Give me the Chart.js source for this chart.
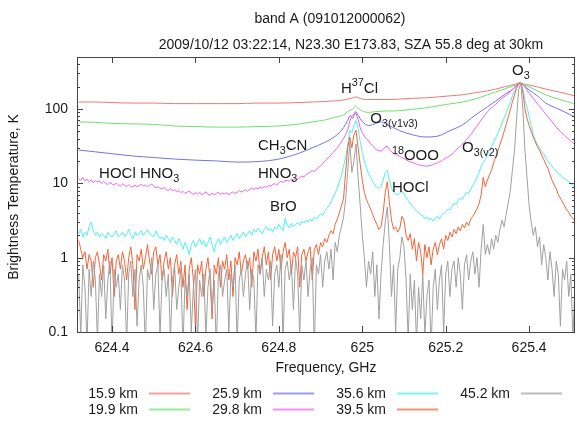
<!DOCTYPE html>
<html>
<head>
<meta charset="utf-8">
<script src="https://cdn.jsdelivr.net/npm/chart.js@4.4.0/dist/chart.umd.min.js"></script>
<style>
  html, body { margin: 0; padding: 0; background: #fff; }
</style>
</head>
<body>
<canvas id="chart" width="577" height="421"></canvas>
<script>
// spectra, brightness temperature in K
const fineStart = 624.32;   // first channel, GHz
const fineStep = 0.005;     // channel spacing, GHz

// coarse frequency points for the smooth low-altitude spectra
const freqCoarse = [624.32, 624.36, 624.40, 624.45, 624.50, 624.55, 624.60, 624.65, 624.70, 624.75,
    624.80, 624.85, 624.88, 624.91, 624.93, 624.945, 624.955, 624.965, 624.971, 624.977,
    624.984, 624.99, 625.00, 625.015, 625.03, 625.045, 625.06, 625.075, 625.09, 625.12,
    625.15, 625.18, 625.21, 625.24, 625.27, 625.30, 625.32, 625.34, 625.355, 625.368,
    625.378, 625.388, 625.40, 625.42, 625.44, 625.47, 625.51];

const t159 = [124, 124, 122, 120, 120, 118, 118, 118, 118, 120,
    120, 122, 124, 126, 128, 130, 132, 136, 139, 141,
    145, 141, 136, 134, 134, 134, 134, 134, 136, 139,
    141, 145, 150, 155, 165, 175, 185, 198, 207, 216,
    224, 216, 210, 198, 185, 170, 150];

const t199 = [67, 66, 64, 63, 62, 59, 58, 57, 57, 58,
    59, 63, 67, 71, 76, 80, 83, 92, 97, 100,
    110, 103, 94, 90, 92, 93, 94, 94, 95, 99,
    103, 110, 117, 124, 136, 155, 170, 185, 198, 210,
    224, 210, 198, 175, 155, 136, 117];

const t259 = [28, 26.5, 25, 23.3, 22.2, 21.2, 20.5, 20, 19.3, 19.6,
    21.2, 25.6, 30, 35.5, 41, 48, 56, 70, 82, 75,
    92, 82, 68, 60, 63, 67, 61, 56, 51, 45,
    42, 43, 51, 61, 82, 107, 128, 155, 175, 198,
    224, 204, 181, 150, 120, 100, 78];

// fine channel spectra (one value per channel)
const t298 = [11.5, 11.0, 12.0, 10.8, 11.4, 10.5, 11.2, 10.2, 10.9, 10.4,
    10.8, 9.9, 10.5, 10.0, 9.6, 10.3, 9.8, 9.4, 10.1, 9.5,
    9.2, 9.8, 9.4, 9.0, 9.6, 9.1, 8.8, 9.5, 9.0, 9.3,
    9.7, 9.2, 9.5, 9.0, 9.4, 9.8, 9.1, 8.7, 9.0, 8.6,
    8.4, 8.8, 8.2, 8.0, 8.5, 7.9, 8.2, 7.7, 8.0, 7.5,
    7.8, 7.3, 7.6, 7.9, 7.4, 7.1, 7.5, 7.2, 7.6, 7.0,
    7.3, 7.7, 7.1, 6.9, 7.4, 7.0, 7.3, 7.6, 7.1, 7.4,
    7.2, 7.5, 7.0, 7.4, 7.7, 7.3, 7.6, 8.0, 7.6, 7.9,
    8.2, 7.8, 8.3, 8.6, 8.2, 8.7, 8.4, 8.9, 8.6, 9.1,
    8.8, 9.4, 9.1, 9.6, 9.9, 9.5, 10.2, 10.6, 10.3, 10.8,
    11.0, 10.7, 11.3, 11.0, 11.6, 11.2, 12.0, 12.5, 12.2, 13.0,
    13.6, 14.2, 14.8, 14.4, 15.5, 16.4, 17.0, 18.5, 19.8, 21,
    22.5, 24, 26, 28, 30, 33, 36, 40, 45, 52,
    68, 80, 86, 88, 72, 56, 48, 43, 40, 37,
    34, 32, 29.5, 28, 27.5, 27, 28.5, 31, 31.5, 28.5,
    26.5, 25.5, 24.5, 23.8, 23, 22.2, 21.5, 20.8, 20.0, 19.5,
    19.0, 18.6, 18.2, 17.8, 17.5, 17.3, 17.1, 17.0, 17.2, 17.5,
    18.0, 18.4, 18.8, 19.5, 20, 21, 21.8, 22.5, 23.5, 24.5,
    26, 28, 30, 31.5, 33.5, 36, 39, 42, 45, 49,
    54, 59, 65, 71, 77, 84, 92, 99, 104, 110,
    116, 123, 131, 139, 146, 152, 160, 170, 182, 196,
    212, 220, 224, 212, 196, 180, 165, 150, 138, 127,
    117, 108, 100, 92, 85, 79, 73, 67, 62, 57,
    53, 50, 47, 44, 41.5, 39, 37, 35, 33];

const t356 = [2.1, 2.4, 1.9, 2.2, 2.0, 2.6, 3.0, 2.3, 2.0, 2.2,
    1.9, 2.1, 2.0, 1.8, 2.2, 2.0, 1.9, 2.1, 2.3, 1.9,
    2.0, 2.2, 1.9, 2.1, 2.4, 2.0, 1.8, 2.2, 2.0, 2.1,
    2.3, 2.0, 2.2, 2.4, 2.1, 2.0, 1.9, 2.3, 2.0, 1.8,
    1.9, 1.7, 2.0, 1.8, 1.6, 1.9, 1.7, 1.5, 1.8, 1.6,
    1.3, 1.6, 1.4, 1.1, 1.5, 1.7, 1.4, 1.6, 1.8, 1.5,
    1.7, 1.4, 1.6, 1.9, 1.5, 1.2, 1.6, 1.8, 1.5, 1.7,
    1.9, 1.6, 1.8, 2.0, 1.7, 1.9, 2.1, 1.8, 2.0, 2.2,
    1.9, 2.1, 2.3, 2.0, 2.4, 2.2, 2.5, 2.3, 2.1, 2.4,
    2.6, 2.3, 2.5, 2.2, 2.6, 2.4, 2.8, 2.5, 2.3, 3.4,
    2.7, 2.5, 2.9, 2.6, 2.8, 3.0, 2.7, 3.1, 2.9, 3.2,
    3.0, 3.3, 3.1, 3.5, 3.3, 3.6, 3.9, 3.7, 4.2, 4.6,
    5.0, 5.6, 6.5, 7.4, 8.6, 10.5, 13, 17, 22, 32,
    52, 48, 60, 70, 55, 36, 26, 20, 16, 13.5,
    12, 10.5, 9.5, 8.8, 8.5, 9.2, 11, 14, 15, 11,
    8.6, 7.6, 7.2, 7.0, 7.4, 7.8, 7.2, 6.4, 5.8, 5.4,
    5.0, 4.6, 4.3, 4.0, 3.8, 3.6, 3.3, 3.5, 3.2, 3.4,
    3.1, 3.4, 3.6, 3.3, 3.7, 3.9, 4.2, 4.5, 4.4, 4.9,
    5.4, 5.2, 5.9, 6.4, 6.0, 6.9, 7.6, 7.3, 8.4, 9.4,
    10.5, 12, 14, 17, 19, 21, 24, 27, 31, 36,
    41, 47, 55, 64, 75, 88, 105, 125, 150, 175,
    195, 215, 224, 185, 130, 105, 80, 60, 45, 38,
    33, 30, 27, 25, 22, 20, 18, 17, 15.5, 14.5,
    13.5, 13, 12, 11.5, 11, 10.5, 10, 9.5, 9.2];

const t395 = [1.7, 1.3, 1.0, 1.2, 0.7, 1.1, 0.9, 0.4, 1.0, 1.2,
    0.8, 0.5, 1.1, 0.9, 1.3, 0.6, 1.0, 0.3, 0.9, 1.1,
    0.7, 1.2, 0.9, 0.5, 1.0, 1.4, 0.8, 0.2, 1.1, 0.9,
    1.3, 0.7, 1.0, 1.5, 0.9, 0.6, 1.2, 1.4, 0.8, 1.1,
    0.5, 0.9, 1.2, 0.7, 1.0, 0.3, 0.8, 1.1, 0.6, 0.9,
    0.4, 0.8, 0.2, 0.7, 1.0, 0.5, 0.12, 0.8, 0.6, 0.9,
    0.3, 0.7, 1.0, 0.5, 0.15, 0.8, 0.6, 1.0, 0.4, 0.9,
    0.7, 1.1, 0.5, 0.9, 0.3, 1.0, 0.8, 1.2, 0.6, 0.9,
    1.1, 0.7, 1.0, 0.4, 1.2, 0.9, 1.3, 0.6, 1.0, 1.4,
    0.8, 1.2, 0.5, 1.1, 1.4, 0.9, 1.3, 0.7, 1.2, 1.6,
    1.0, 1.3, 0.6, 1.2, 1.0, 1.4, 0.4, 1.1, 1.3, 0.9,
    1.2, 1.4, 0.5, 1.3, 1.5, 1.1, 1.6, 1.4, 1.8, 1.6,
    2.0, 2.3, 2.1, 2.8, 3.3, 4.0, 5.0, 6.2, 14, 30,
    42, 30, 45, 52, 30, 18, 11, 7.5, 6.0, 5.2,
    4.5, 3.8, 3.2, 2.8, 2.4, 2.6, 4.0, 7.5, 10.5, 5.5,
    3.2, 2.4, 2.6, 2.2, 2.5, 3.6, 3.2, 2.0, 1.7, 2.1,
    1.3, 1.8, 0.9, 1.6, 1.2, 0.6, 1.5, 1.0, 1.4, 0.8,
    1.3, 1.6, 1.1, 1.5, 1.8, 1.3, 2.0, 1.7, 2.2, 1.9,
    2.4, 2.1, 2.6, 2.3, 2.8, 2.5, 3.0, 2.7, 3.3, 3.6,
    4.0, 4.6, 5.3, 7.0, 12, 9.0, 11, 13, 15, 19,
    23, 27, 33, 40, 50, 62, 78, 98, 125, 155,
    190, 218, 224, 170, 100, 75, 60, 50, 42, 36,
    31, 28, 24, 21, 18, 16, 13, 11, 9.5, 8.5,
    7.0, 6.3, 5.6, 5.0, 4.4, 4.1, 3.6, 3.4, 3.1];

const t452 = [0.6, 0.09, 0.8, 0.4, 0.07, 0.7, 0.3, 0.9, 0.5, 0.08,
    0.6, 0.3, 0.8, 0.15, 0.5, 0.9, 0.06, 0.7, 0.4, 0.6,
    0.2, 0.8, 0.5, 0.07, 0.6, 0.9, 0.3, 0.7, 0.12, 0.5,
    0.8, 0.4, 0.06, 0.7, 0.5, 1.0, 0.2, 0.6, 0.8, 0.09,
    0.5, 0.7, 0.3, 0.6, 0.08, 0.5, 0.8, 0.2, 0.4, 0.7,
    0.06, 0.5, 0.3, 0.6, 0.1, 0.4, 0.7, 0.07, 0.5, 0.3,
    0.6, 0.09, 0.4, 0.7, 0.2, 0.5, 0.06, 0.6, 0.8, 0.3,
    0.5, 0.7, 0.1, 0.6, 0.4, 0.8, 0.07, 0.5, 0.7, 0.3,
    0.6, 0.9, 0.2, 0.7, 0.5, 0.08, 0.8, 0.6, 1.0, 0.3,
    0.7, 0.5, 0.9, 0.12, 0.6, 0.8, 0.4, 1.1, 0.07, 0.7,
    0.9, 0.5, 0.8, 0.2, 1.0, 0.6, 0.09, 0.8, 0.5, 0.9,
    0.3, 0.7, 1.0, 0.06, 0.8, 0.6, 1.1, 0.4, 0.9, 1.2,
    0.7, 1.3, 0.5, 1.6, 1.2, 2.0, 2.6, 3.5, 6, 14,
    36, 14, 20, 34, 12, 5, 2.0, 1.0, 0.4, 0.9,
    0.6, 1.2, 0.3, 0.8, 0.15, 0.6, 1.5, 3.0, 4.8, 1.5,
    0.3, 0.8, 0.1, 0.7, 1.0, 1.9, 1.4, 0.5, 0.08, 0.6,
    0.2, 0.5, 0.07, 0.4, 0.15, 0.6, 0.09, 0.3, 0.5, 0.06,
    0.4, 0.7, 0.2, 0.5, 0.8, 0.1, 0.6, 0.9, 0.3, 0.7,
    0.9, 0.4, 1.0, 0.6, 0.2, 0.8, 1.1, 0.5, 0.9, 1.2,
    0.6, 1.0, 0.4, 1.3, 2.8, 1.1, 1.5, 1.1, 1.8, 1.3,
    2.0, 1.6, 2.4, 3.2, 2.6, 3.8, 5.5, 8, 15, 28,
    75, 180, 224, 100, 28, 12, 5, 3.0, 2.0, 2.6,
    1.4, 1.9, 0.8, 1.5, 1.0, 0.5, 1.2, 0.7, 0.3, 0.9,
    0.6, 0.12, 0.7, 0.5, 0.9, 0.3, 0.6, 0.08, 0.5];

const altLabels = ['15.9 km', '19.9 km', '25.9 km', '29.8 km', '35.6 km', '39.5 km', '45.2 km'];
const xTicks = [624.4, 624.6, 624.8, 625.0, 625.2, 625.4];
const yTicks = [0.1, 1, 10, 100];

// line labels: text pieces, frequency and temperature of the text baseline start
const lineNames = [
    { parts: [['H'], ['37', 'sup'], ['Cl']], f: 624.949, t: 165 },
    { parts: [['O'], ['3', 'sub']], f: 625.359, t: 288 },
    { parts: [['O'], ['3(v1v3)', 'sub']], f: 625.019, t: 65 },
    { parts: [['18', 'sup'], ['OOO']], f: 625.071, t: 20.7 },
    { parts: [['O'], ['3(v2)', 'sub']], f: 625.239, t: 26.5 },
    { parts: [['HOCl']], f: 625.071, t: 7.65 },
    { parts: [['CH'], ['3', 'sub'], ['CN']], f: 624.750, t: 28.2 },
    { parts: [['HNO'], ['3', 'sub']], f: 624.750, t: 11.8 },
    { parts: [['HOCl HNO'], ['3', 'sub']], f: 624.369, t: 11.8 },
    { parts: [['BrO']], f: 624.779, t: 4.26 }
];

const colors = ['#f07878', '#70e070', '#7272f0', '#f060f0', '#4cf0f0', '#f0653a', '#a0a0a0'];
const FONT = '"Liberation Sans", Arial, Helvetica, sans-serif';

const freqFine = t298.map((v, i) => +(fineStart + i * fineStep).toFixed(3));

function toPoints(freqs, vals) {
    return vals.map((v, i) => ({ x: freqs[i], y: v }));
}

const series = [
    [freqCoarse, t159], [freqCoarse, t199], [freqCoarse, t259],
    [freqFine, t298], [freqFine, t356], [freqFine, t395], [freqFine, t452]
];

const datasets = series.map((s, i) => ({
    label: altLabels[i],
    data: toPoints(s[0], s[1]),
    borderColor: colors[i],
    borderWidth: 1,
    pointRadius: 0,
    fill: false,
    tension: 0,
    cubicInterpolationMode: i < 3 ? 'monotone' : 'default',
    order: 7 - i   // later altitudes drawn on top
}));

function drawRich(ctx, x, y, parts, size) {
    let cx = x;
    parts.forEach(p => {
        const small = p[1] !== undefined;
        const fs = small ? size * 0.72 : size;
        ctx.font = fs + 'px ' + FONT;
        const dy = p[1] === 'sub' ? size * 0.3 : (p[1] === 'sup' ? -size * 0.42 : 0);
        ctx.fillText(p[0], cx, y + dy);
        cx += ctx.measureText(p[0]).width;
    });
}

// border and inward tick marks, gnuplot style
const framePlugin = {
    id: 'frame',
    afterDatasetsDraw(chart) {
        const { ctx, chartArea: a, scales } = chart;
        ctx.save();
        ctx.strokeStyle = '#444';
        ctx.lineWidth = 1;
        ctx.strokeRect(a.left + 0.5, a.top + 0.5, a.right - a.left - 1, a.bottom - a.top);
        ctx.beginPath();
        xTicks.forEach(v => {
            const px = Math.round(scales.x.getPixelForValue(v)) + 0.5;
            ctx.moveTo(px, a.bottom); ctx.lineTo(px, a.bottom - 6);
            ctx.moveTo(px, a.top); ctx.lineTo(px, a.top + 6);
        });
        yTicks.forEach(d => {
            for (let k = 1; k <= 9; k++) {
                const v = d * k;
                if (v > 500) break;
                const len = k === 1 ? 6 : 3;
                const py = Math.round(scales.y.getPixelForValue(v)) + 0.5;
                ctx.moveTo(a.left, py); ctx.lineTo(a.left + len, py);
                ctx.moveTo(a.right, py); ctx.lineTo(a.right - len, py);
            }
        });
        ctx.stroke();
        ctx.restore();
    }
};

// titles, axis titles, line names and legend
const textPlugin = {
    id: 'texts',
    afterDraw(chart) {
        const { ctx, chartArea: a, scales } = chart;
        ctx.save();
        ctx.fillStyle = '#1a1a1a';
        ctx.textBaseline = 'alphabetic';

        ctx.font = '14px ' + FONT;
        ctx.textAlign = 'center';
        ctx.fillText('band A (091012000062)', 330, 23);
        ctx.fillText('2009/10/12 03:22:14, N23.30 E173.83, SZA 55.8 deg at 30km', 351, 49);
        ctx.fillText('Frequency, GHz', (a.left + a.right) / 2, 372);

        ctx.save();
        ctx.translate(18, 197);
        ctx.rotate(-Math.PI / 2);
        ctx.fillText('Brightness Temperature, K', 0, 0);
        ctx.restore();

        ctx.textAlign = 'left';
        lineNames.forEach(n => {
            drawRich(ctx, scales.x.getPixelForValue(n.f), scales.y.getPixelForValue(n.t), n.parts, 15);
        });

        // legend: two rows, filled column by column
        ctx.font = '14px ' + FONT;
        ctx.textAlign = 'right';
        altLabels.forEach((lab, i) => {
            const col = Math.floor(i / 2), row = i % 2;
            const tx = 138 + col * 124;
            const ty = 398 + row * 16;
            ctx.globalAlpha = 1;
            ctx.fillStyle = '#1a1a1a';
            ctx.fillText(lab, tx, ty);
            ctx.globalAlpha = 0.7;
            ctx.fillStyle = colors[i];
            ctx.fillRect(tx + 11, ty - 5.5, 41, 2);
        });
        ctx.restore();
    }
};

new Chart(document.getElementById('chart'), {
    type: 'line',
    data: { datasets: datasets },
    options: {
        responsive: false,
        animation: false,
        events: [],
        layout: { padding: { top: 57, right: 2, left: 0, bottom: 0 } },
        plugins: {
            legend: { display: false },
            tooltip: { enabled: false }
        },
        scales: {
            x: {
                type: 'linear',
                min: 624.316,
                max: 625.51,
                afterBuildTicks: s => { s.ticks = xTicks.map(v => ({ value: v })); },
                afterFit: s => { s.height = 89; },
                grid: { display: false, drawTicks: false },
                border: { display: false },
                ticks: {
                    autoSkip: false,
                    maxRotation: 0,
                    padding: 8,
                    color: '#1a1a1a',
                    font: { family: FONT, size: 14 },
                    callback: v => String(Math.round(v * 10) / 10)
                }
            },
            y: {
                type: 'logarithmic',
                min: 0.1,
                max: 500,
                afterBuildTicks: s => { s.ticks = yTicks.map(v => ({ value: v })); },
                afterFit: s => { s.width = 77; },
                grid: { display: false, drawTicks: false },
                border: { display: false },
                ticks: {
                    padding: 9,
                    color: '#1a1a1a',
                    font: { family: FONT, size: 14 },
                    callback: v => String(v)
                }
            }
        }
    },
    plugins: [framePlugin, textPlugin]
});
</script>
</body>
</html>
